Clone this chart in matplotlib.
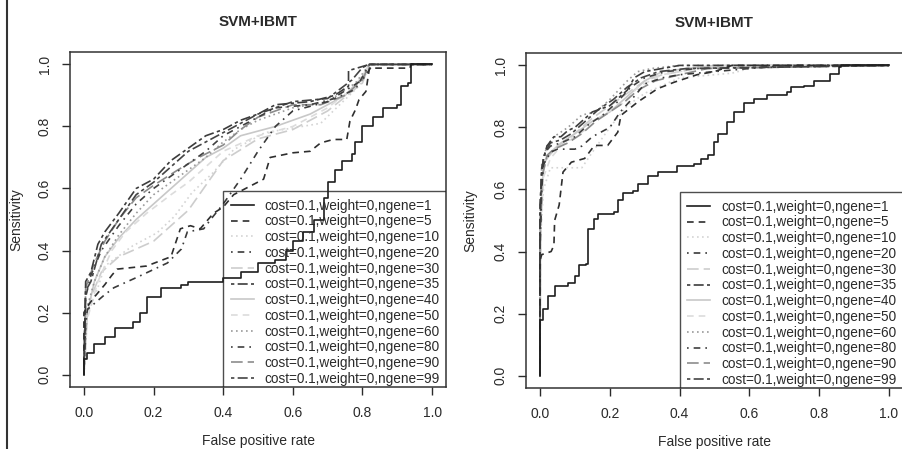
import matplotlib
matplotlib.use("Agg")
import matplotlib.pyplot as plt
from matplotlib.lines import Line2D

plt.rcParams['font.family'] = ['Liberation Sans', 'DejaVu Sans']

# ---- data ----
ngenes = [1, 5, 10, 20, 30, 35, 40, 50, 60, 80, 90, 99]
labels = ["cost=0.1,weight=0,ngene=%d" % g for g in ngenes]

# left panel: (fpr list, tpr list) per ngene
left_fpr = {
    1: [0, 0, 0.01, 0.03, 0.06, 0.09, 0.14, 0.16, 0.18, 0.22, 0.28, 0.30, 0.40, 0.45, 0.50, 0.55,
        0.58, 0.60, 0.63, 0.66, 0.69, 0.70, 0.72, 0.74, 0.77, 0.78, 0.80, 0.83, 0.86, 0.90, 0.91, 0.93, 0.94, 1.0],
    5: [0, 0, 0.01, 0.03, 0.06, 0.08, 0.095, 0.18, 0.25, 0.277, 0.306, 0.334, 0.372, 0.40, 0.43, 0.516,
        0.535, 0.60, 0.65, 0.68, 0.716, 0.755, 0.764, 0.78, 0.79, 0.81, 0.82, 0.936, 0.94, 1.0],
    10: [0, 0.005, 0.04, 0.06, 0.14, 0.21, 0.26, 0.31, 0.37, 0.43, 0.52, 0.68, 0.72, 0.79, 0.82, 1.0],
    20: [0, 0.005, 0.01, 0.057, 0.086, 0.155, 0.24, 0.28, 0.297, 0.344, 0.364, 0.40, 0.45, 0.50, 0.55,
         0.60, 0.70, 0.80, 0.83, 1.0],
    30: [0, 0, 0.02, 0.05, 0.10, 0.20, 0.30, 0.35, 0.40, 0.50, 0.60, 0.70, 0.80, 0.82, 1.0],
    35: [0, 0.005, 0.02, 0.04, 0.06, 0.10, 0.15, 0.20, 0.25, 0.30, 0.35, 0.40, 0.45, 0.50, 0.55, 0.65,
         0.72, 0.76, 0.76, 0.82, 1.0],
    40: [0, 0.01, 0.03, 0.06, 0.10, 0.15, 0.20, 0.25, 0.30, 0.35, 0.40, 0.45, 0.55, 0.65, 0.75, 0.80, 0.82, 1.0],
    50: [0, 0.01, 0.04, 0.08, 0.12, 0.18, 0.25, 0.30, 0.35, 0.40, 0.50, 0.60, 0.70, 0.78, 0.82, 1.0],
    60: [0, 0.01, 0.03, 0.06, 0.10, 0.15, 0.20, 0.25, 0.30, 0.35, 0.40, 0.45, 0.50, 0.60, 0.70, 0.78, 0.82, 1.0],
    80: [0, 0.005, 0.02, 0.05, 0.10, 0.15, 0.20, 0.25, 0.30, 0.35, 0.40, 0.45, 0.50, 0.55, 0.65, 0.72,
         0.78, 0.80, 0.82, 1.0],
    90: [0, 0.005, 0.03, 0.06, 0.10, 0.15, 0.20, 0.27, 0.33, 0.40, 0.45, 0.50, 0.60, 0.68, 0.75, 0.80, 0.82, 1.0],
    99: [0, 0.005, 0.02, 0.05, 0.10, 0.15, 0.20, 0.25, 0.30, 0.35, 0.40, 0.45, 0.50, 0.60, 0.70, 0.77,
         0.80, 0.82, 1.0],
}
left_tpr = {
    1: [0, 0.05, 0.07, 0.10, 0.12, 0.15, 0.17, 0.20, 0.25, 0.28, 0.29, 0.30, 0.31, 0.33, 0.36, 0.37,
        0.40, 0.43, 0.46, 0.50, 0.57, 0.62, 0.66, 0.69, 0.71, 0.75, 0.80, 0.83, 0.86, 0.87, 0.93, 0.94, 1.0, 1.0],
    5: [0, 0.20, 0.22, 0.25, 0.29, 0.32, 0.34, 0.35, 0.38, 0.47, 0.48, 0.47, 0.52, 0.54, 0.58, 0.63,
        0.70, 0.715, 0.72, 0.747, 0.758, 0.758, 0.817, 0.854, 0.886, 0.913, 0.988, 0.988, 1.0, 1.0],
    10: [0, 0.18, 0.28, 0.35, 0.415, 0.457, 0.51, 0.586, 0.65, 0.725, 0.78, 0.81, 0.854, 0.93, 1.0, 1.0],
    20: [0, 0.17, 0.21, 0.255, 0.28, 0.315, 0.36, 0.405, 0.46, 0.47, 0.50, 0.55, 0.63, 0.72, 0.80,
         0.85, 0.88, 0.95, 1.0, 1.0],
    30: [0, 0.15, 0.25, 0.33, 0.38, 0.43, 0.53, 0.61, 0.69, 0.76, 0.79, 0.85, 0.94, 1.0, 1.0],
    35: [0, 0.30, 0.33, 0.42, 0.46, 0.52, 0.60, 0.63, 0.69, 0.73, 0.77, 0.79, 0.82, 0.84, 0.87, 0.88,
         0.90, 0.93, 0.98, 1.0, 1.0],
    40: [0, 0.20, 0.30, 0.38, 0.44, 0.50, 0.55, 0.60, 0.65, 0.70, 0.73, 0.77, 0.80, 0.84, 0.90, 0.96, 1.0, 1.0],
    50: [0, 0.18, 0.30, 0.40, 0.46, 0.52, 0.58, 0.62, 0.67, 0.72, 0.77, 0.80, 0.86, 0.93, 1.0, 1.0],
    60: [0, 0.22, 0.30, 0.38, 0.45, 0.52, 0.58, 0.62, 0.66, 0.70, 0.75, 0.79, 0.82, 0.86, 0.88, 0.94, 1.0, 1.0],
    80: [0, 0.25, 0.32, 0.40, 0.48, 0.55, 0.60, 0.64, 0.68, 0.72, 0.77, 0.80, 0.83, 0.86, 0.87, 0.89,
         0.92, 0.96, 1.0, 1.0],
    90: [0, 0.28, 0.36, 0.43, 0.50, 0.57, 0.61, 0.66, 0.70, 0.74, 0.79, 0.83, 0.87, 0.87, 0.90, 0.95, 1.0, 1.0],
    99: [0, 0.27, 0.30, 0.42, 0.50, 0.58, 0.62, 0.67, 0.72, 0.75, 0.78, 0.81, 0.84, 0.88, 0.89, 0.95,
         0.99, 1.0, 1.0],
}

# right panel
right_fpr = {
    1: [0, 0, 0.009, 0.023, 0.042, 0.08, 0.10, 0.113, 0.132, 0.137, 0.156, 0.166, 0.213, 0.223, 0.237,
        0.266, 0.28, 0.31, 0.337, 0.366, 0.394, 0.442, 0.461, 0.48, 0.50, 0.509, 0.537, 0.556, 0.585,
        0.613, 0.651, 0.709, 0.718, 0.756, 0.785, 0.832, 0.856, 0.861, 1.0],
    5: [0, 0, 0.005, 0.032, 0.04, 0.042, 0.055, 0.066, 0.09, 0.128, 0.156, 0.194, 0.223, 0.232, 0.28,
        0.337, 0.385, 0.45, 0.50, 0.55, 1.0],
    10: [0, 0.002, 0.01, 0.03, 0.12, 0.15, 0.20, 0.25, 0.30, 0.40, 0.50, 0.55, 0.60, 0.70, 1.0],
    20: [0, 0, 0.005, 0.01, 0.03, 0.05, 0.10, 0.12, 0.15, 0.20, 0.23, 0.27, 0.30, 0.35, 0.40, 0.50, 0.60, 0.70, 1.0],
    30: [0, 0.002, 0.01, 0.02, 0.05, 0.08, 0.12, 0.15, 0.20, 0.25, 0.30, 0.35, 0.45, 0.55, 1.0],
    35: [0, 0, 0.005, 0.01, 0.02, 0.04, 0.06, 0.08, 0.10, 0.13, 0.15, 0.20, 0.25, 0.27, 0.30, 0.35, 0.40, 1.0],
    40: [0, 0.002, 0.01, 0.03, 0.06, 0.10, 0.15, 0.20, 0.25, 0.30, 0.35, 0.42, 0.50, 1.0],
    50: [0, 0.002, 0.01, 0.03, 0.06, 0.10, 0.14, 0.18, 0.24, 0.28, 0.35, 0.45, 0.55, 1.0],
    60: [0, 0, 0.005, 0.02, 0.04, 0.08, 0.12, 0.16, 0.20, 0.25, 0.28, 0.32, 0.40, 1.0],
    80: [0, 0, 0.005, 0.015, 0.03, 0.06, 0.10, 0.14, 0.18, 0.22, 0.26, 0.30, 0.36, 0.45, 1.0],
    90: [0, 0, 0.006, 0.02, 0.04, 0.08, 0.12, 0.16, 0.20, 0.24, 0.28, 0.33, 0.40, 0.48, 1.0],
    99: [0, 0, 0.005, 0.015, 0.03, 0.06, 0.09, 0.13, 0.17, 0.21, 0.25, 0.29, 0.34, 0.42, 1.0],
}
right_tpr = {
    1: [0, 0.18, 0.215, 0.258, 0.29, 0.30, 0.32, 0.355, 0.36, 0.473, 0.505, 0.52, 0.527, 0.565, 0.588,
        0.594, 0.618, 0.645, 0.656, 0.656, 0.677, 0.683, 0.699, 0.71, 0.753, 0.78, 0.817, 0.85, 0.88,
        0.892, 0.903, 0.914, 0.93, 0.935, 0.95, 0.973, 0.995, 1.0, 1.0],
    5: [0, 0.37, 0.39, 0.40, 0.42, 0.50, 0.55, 0.656, 0.688, 0.70, 0.742, 0.742, 0.785, 0.839, 0.882,
        0.925, 0.946, 0.97, 0.98, 1.0, 1.0],
    10: [0, 0.45, 0.60, 0.67, 0.67, 0.72, 0.80, 0.87, 0.91, 0.96, 0.97, 0.975, 0.99, 1.0, 1.0],
    20: [0, 0.40, 0.60, 0.68, 0.72, 0.73, 0.73, 0.74, 0.77, 0.80, 0.85, 0.90, 0.94, 0.96, 0.97, 0.98, 0.99, 1.0, 1.0],
    30: [0, 0.50, 0.66, 0.70, 0.74, 0.76, 0.80, 0.83, 0.87, 0.91, 0.95, 0.97, 0.99, 1.0, 1.0],
    35: [0, 0.55, 0.65, 0.70, 0.74, 0.77, 0.77, 0.79, 0.80, 0.83, 0.85, 0.87, 0.92, 0.96, 0.98, 0.99, 1.0, 1.0],
    40: [0, 0.50, 0.68, 0.72, 0.75, 0.78, 0.82, 0.85, 0.90, 0.95, 0.98, 0.99, 1.0, 1.0],
    50: [0, 0.45, 0.64, 0.70, 0.74, 0.77, 0.80, 0.84, 0.88, 0.93, 0.97, 0.99, 1.0, 1.0],
    60: [0, 0.50, 0.68, 0.74, 0.77, 0.80, 0.84, 0.85, 0.89, 0.95, 0.98, 0.99, 1.0, 1.0],
    80: [0, 0.45, 0.66, 0.72, 0.74, 0.75, 0.77, 0.81, 0.84, 0.88, 0.93, 0.96, 0.98, 0.99, 1.0],
    90: [0, 0.42, 0.64, 0.71, 0.73, 0.75, 0.78, 0.82, 0.85, 0.88, 0.92, 0.95, 0.97, 0.99, 1.0],
    99: [0, 0.48, 0.67, 0.72, 0.75, 0.76, 0.78, 0.82, 0.86, 0.89, 0.93, 0.96, 0.98, 0.99, 1.0],
}

ticks = [0.0, 0.2, 0.4, 0.6, 0.8, 1.0]
tick_labels = ["0.0", "0.2", "0.4", "0.6", "0.8", "1.0"]

# grey / line type per ngene (R lty cycle, scanned grey)
styles = {
    1: ("#1e1e1e", "-"),
    5: ("#2e2e2e", (0, (4, 3))),
    10: ("#d4d4d4", (0, (1, 2))),
    20: ("#3a3a3a", (0, (1, 3, 4, 3))),
    30: ("#cdcdcd", (0, (7, 3))),
    35: ("#3c3c3c", (0, (2, 2, 6, 2))),
    40: ("#c8c8c8", "-"),
    50: ("#dcdcdc", (0, (4, 3))),
    60: ("#9a9a9a", (0, (1, 2))),
    80: ("#404040", (0, (1, 3, 4, 3))),
    90: ("#8c8c8c", (0, (7, 3))),
    99: ("#444444", (0, (2, 2, 6, 2))),
}

fig = plt.figure(figsize=(9.02, 4.49), dpi=100)
txt = "#2a2a2a"

panels = [
    ([70 / 902, 1 - 387 / 449, 376 / 902, 335 / 449], left_fpr, left_tpr, -0.125, 0.407, 0.585),
    ([526 / 902, 1 - 388 / 449, 377 / 902, 335 / 449], right_fpr, right_tpr, -0.13, 0.408, 0.585),
]

for rect, fpr, tpr, ylab_x, leg_x, leg_y in panels:
    ax = fig.add_axes(rect)
    # light curves first, dark on top
    order = [10, 30, 40, 50, 60, 90, 20, 80, 99, 35, 5, 1]
    for g in order:
        c, ls = styles[g]
        ax.plot(fpr[g], tpr[g], color=c, linestyle=ls, lw=1.2, drawstyle='steps-post' if g == 1 else 'default')
    ax.set_xlim(-0.04, 1.04)
    ax.set_ylim(-0.04, 1.04)
    ax.set_xticks(ticks)
    ax.set_xticklabels(tick_labels)
    ax.set_yticks(ticks)
    ax.set_yticklabels(tick_labels, rotation=90, va='center')
    ax.tick_params(direction='out', length=6, width=1, colors=txt, labelsize=10, pad=8)
    ax.tick_params(axis='y', pad=7)
    for s in ax.spines.values():
        s.set_color("#333333")
        s.set_linewidth(1.1)
    ax.text(0.5, 1.09, "SVM+IBMT", transform=ax.transAxes, ha='center', va='center',
            fontsize=11, fontweight='bold', color=txt)
    ax.set_xlabel("False positive rate", fontsize=10, color=txt)
    ax.xaxis.set_label_coords(0.5, -0.14)
    ax.set_ylabel("Sensitivity", fontsize=10, color=txt)
    ax.yaxis.set_label_coords(ylab_x, 0.5)

    handles = [Line2D([], [], color=styles[g][0], linestyle=styles[g][1], lw=1.2) for g in ngenes]
    leg = ax.legend(handles, labels, loc='upper left', bbox_to_anchor=(leg_x, leg_y),
                    fontsize=9.8, frameon=True, fancybox=False, edgecolor="#222222",
                    handlelength=1.7, handletextpad=0.8, labelspacing=0.13, borderpad=0.55,
                    borderaxespad=0)
    leg.get_frame().set_facecolor('none')
    leg.get_frame().set_linewidth(1.0)
    for t in leg.get_texts():
        t.set_color(txt)
    for a in leg.findobj():
        if a is not leg:
            a.set_clip_box(ax.bbox)

# scan border on the far left
fig.add_artist(Line2D([7 / 902, 7 / 902], [0, 1], transform=fig.transFigure, color="#333333", lw=1.5))

fig.savefig("out.png", dpi=100)
